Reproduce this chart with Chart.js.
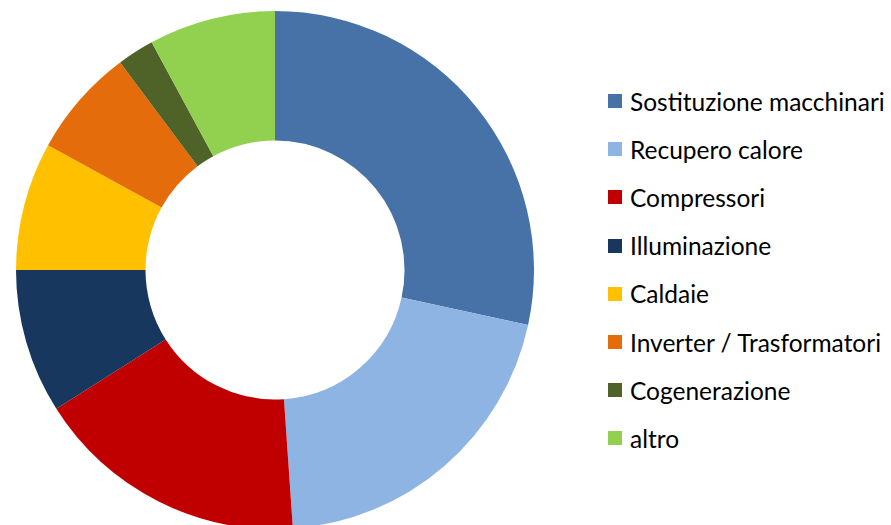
<!DOCTYPE html>
<html lang="it">
<head>
    <meta charset="UTF-8">
    <title>Interventi di efficienza energetica</title>
    <script src="https://cdn.jsdelivr.net/npm/chart.js"></script>
    <style>
        html, body { margin: 0; padding: 0; width: 891px; height: 525px; overflow: hidden; background: #fff; }
        #wrap { position: relative; width: 891px; height: 525px; }
        #chart { position: absolute; left: 16px; top: 11px; }
        #legend { position: absolute; left: 608px; top: 77px; margin: 0; padding: 0; list-style: none;
                  font-family: "Lato", "Open Sans", sans-serif; font-size: 24.5px; color: #000; }
        #legend li { height: 48.2px; display: flex; align-items: center; white-space: nowrap; }
        #legend span.box { display: inline-block; width: 14px; height: 14px; margin-right: 8px; }
    </style>
</head>
<body>
<div id="wrap">
    <canvas id="chart" width="518" height="518"></canvas>
    <ul id="legend"></ul>
</div>

<script>
    // categorie e quote (%)
    const labels = [
        "Sostituzione macchinari",
        "Recupero calore",
        "Compressori",
        "Illuminazione",
        "Caldaie",
        "Inverter / Trasformatori",
        "Cogenerazione",
        "altro"
    ];
    const values = [28.4, 20.5, 17.1, 9.0, 8.0, 6.8, 2.3, 7.9];
    const colors = ["#4672A8", "#8EB4E3", "#C00000", "#17375E", "#FFC000", "#E46C0A", "#4F6228", "#92D050"];

    new Chart(document.getElementById("chart"), {
        type: "doughnut",
        data: {
            labels: labels,
            datasets: [{
                data: values,
                backgroundColor: colors,
                borderWidth: 0
            }]
        },
        options: {
            responsive: false,
            animation: false,
            cutout: "50%",
            layout: { padding: 0 },
            plugins: {
                legend: { display: false },
                tooltip: { enabled: false }
            }
        }
    });

    // legenda a destra
    const ul = document.getElementById("legend");
    labels.forEach((l, i) => {
        const li = document.createElement("li");
        const box = document.createElement("span");
        box.className = "box";
        box.style.background = colors[i];
        li.appendChild(box);
        li.appendChild(document.createTextNode(l));
        ul.appendChild(li);
    });
</script>
</body>
</html>
